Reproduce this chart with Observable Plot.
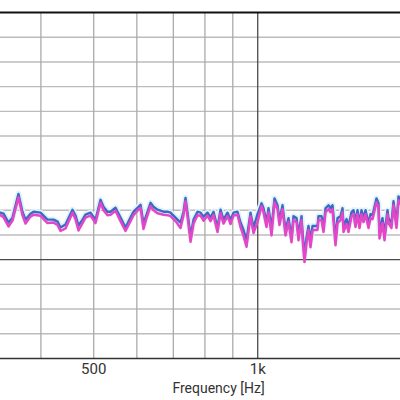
<!DOCTYPE html>
<html><head><meta charset="utf-8">
<script src="https://cdn.jsdelivr.net/npm/d3@7"></script>
<script src="https://cdn.jsdelivr.net/npm/@observablehq/plot@0.6"></script>
<style>html,body{margin:0;padding:0;background:#fff}svg{display:block}</style>
</head><body><div id="chart"></div>
<script>
// Frequencies (Hz) of the sampled points
const freqs = [337,341.5,348.8,354.7,363.8,370.0,374.8,382.8,387.7,399.3,
406.1,411.3,421.9,429.1,434.5,443.8,457.1,463.0,468.9,476.9,
483.0,493.3,503.8,514.6,521.1,530.0,536.8,548.3,560.0,571.9,
584.1,591.6,601.7,609.4,617.1,625.0,635.7,643.8,654.7,671.6,
683.0,691.7,706.5,721.6,730.8,737.0,743.3,752.8,762.4,775.4,
785.3,795.3,808.8,819.2,829.6,843.7,854.5,865.4,880.2,891.4,
902.8,918.1,929.9,941.7,953.7,970.0,982.4,
999.1,1016.2,1024.8,1037.8,1046.7,1060.0,1073.5,1087.2,1096.5,1110.5,
1124.6,1139.0,1153.5,1163.3,1178.2,1188.2,1203.3,1208.4,1218.7,1229.0,
1239.4,1249.9,1260.6,1271.2,1287.5,1292.9,1309.4,1320.6,1331.8,1348.8,
1360.2,1371.8,1389.3,1401.1,1419.0,1431.0,1437.0,1455.4,1467.7,1486.4,
1499.1,1511.8,1524.6,1537.6,1550.6,1563.8,1577.1,1597.2,1610.7,1624.4,
1652.1,1666.1,1673.2,1694.5,1708.9,1730.7,1738.0,1760.2,1775.1,1797.8,
1813.1,1828.4];

// Blue series level (dB, relative)
const seriesBlue = [9.5,9.3,7.5,8.5,13.3,9.7,8.1,9.3,9.7,9.5,
8.7,8.1,8.1,7.7,6.5,7.1,10.1,8.9,6.9,8.1,
9.1,9.5,8.1,12.1,10.7,9.7,9.7,10.5,8.5,6.5,
8.5,9.7,10.5,11.1,7.3,9.1,11.5,10.7,10.1,9.7,
9.7,9.5,8.5,7.5,9.7,12.5,9.5,4.8,8.1,9.7,
9.5,8.7,9.5,8.5,9.7,6.5,10.1,8.1,9.5,8.1,
9.5,9.7,7.5,6.0,4.0,9.5,6.5,
9.2,11.4,10.4,7.6,10.4,6.4,12.4,11.0,8.0,11.0,
6.0,8.4,4.7,8.8,8.4,5.2,8.8,5.6,0.9,4.5,
6.8,3.9,6.8,6.8,6.8,8.8,8.8,6.6,10.4,11.0,
10.4,11.0,4.3,8.4,8.8,10.4,6.8,8.2,6.8,9.6,
10.0,7.6,10.0,7.4,10.0,8.4,10.0,7.4,9.2,9.0,
12.4,11.4,5.6,8.4,5.2,10.0,8.4,7.4,11.8,7.4,
12.8,12.0];

// Pink series level (dB, relative)
const seriesPink = [9.0,8.6,6.7,7.9,12.6,9.0,7.3,8.7,9.1,8.9,
8.0,7.4,7.5,7.0,5.8,6.3,9.5,8.2,5.9,7.4,
8.5,8.9,7.4,11.5,10.0,9.0,9.1,9.9,7.8,5.8,
7.8,9.0,9.9,10.5,6.2,8.4,10.8,10.0,9.4,9.1,
9.0,8.8,7.8,6.4,9.0,11.8,8.7,3.6,7.3,9.0,
8.9,7.9,8.9,7.8,9.0,5.6,9.4,7.3,8.8,7.2,
8.9,9.1,6.6,4.8,2.6,8.8,5.4,
7.6,10.8,9.6,6.6,9.6,4.9,11.6,10.2,7.0,10.2,
4.9,7.6,3.5,8.0,7.6,3.9,8.0,4.3,-0.5,3.3,
6.0,2.5,5.8,6.0,6.0,8.0,8.0,5.6,9.6,10.2,
9.6,10.2,2.9,7.4,8.0,9.6,5.6,7.2,5.6,8.8,
9.2,6.6,9.2,6.4,9.2,7.6,9.2,6.4,8.4,8.2,
11.6,10.6,4.3,7.4,3.9,9.2,7.4,6.4,11.0,6.4,
12.0,11.2];

const gridFreqs = [400,500,600,700,800,900];
const majorFreqs = [1000];
const tickFreqs = [500,1000];
const tickLabels = ["500","1k"];
const gridLevels = [-15,-10,-5,5,10,15,20,25,30,35,40,45];
const majorLevels = [0];
const topLevel = [50];
const bottomLevel = [-20];
const xLabel = "Frequency [Hz]";

const blueData = freqs.map((f,i)=>({f, v: seriesBlue[i]}));
const pinkData = freqs.map((f,i)=>({f, v: seriesPink[i]}));

const chart = Plot.plot({
  width: 400, height: 400,
  marginTop: 12, marginBottom: 42, marginLeft: 0, marginRight: 0,
  style: {background: "#fff", fontFamily: "Roboto, 'Liberation Sans', sans-serif", overflow: "visible"},
  x: {type: "log", domain: [337.2, 1828.4], axis: null},
  y: {domain: [-20, 50], axis: null},
  marks: [
    Plot.ruleY(gridLevels, {stroke: "#bcbcbc", strokeWidth: 1.4}),
    Plot.ruleX(gridFreqs, {stroke: "#ababab", strokeWidth: 1.3}),
    Plot.ruleY(majorLevels, {stroke: "#4a4a4a", strokeWidth: 1.3}),
    Plot.ruleX(majorFreqs, {stroke: "#4a4a4a", strokeWidth: 1.3}),
    Plot.ruleY(topLevel, {stroke: "#111", strokeWidth: 2}),
    Plot.ruleY(bottomLevel, {stroke: "#333", strokeWidth: 1.3}),
    Plot.line(blueData, {x: "f", y: "v", stroke: "#dff4f8", strokeWidth: 6, clip: true}),
    Plot.line(blueData, {x: "f", y: "v", stroke: "#3d68c6", strokeWidth: 2.4, clip: true}),
    Plot.line(pinkData, {x: "f", y: "v", stroke: "#e446c8", strokeWidth: 2.5, clip: true}),
    Plot.text(tickFreqs, {x: d => d, text: (d, i) => tickLabels[i], frameAnchor: "bottom", lineAnchor: "middle", dy: 11, fontSize: 15, fill: "#333"}),
    Plot.text([xLabel], {text: d => d, frameAnchor: "bottom", lineAnchor: "middle", dx: 18, dy: 30, fontSize: 14, fill: "#333"})
  ]
});
document.getElementById("chart").appendChild(chart);
</script>
</body></html>
